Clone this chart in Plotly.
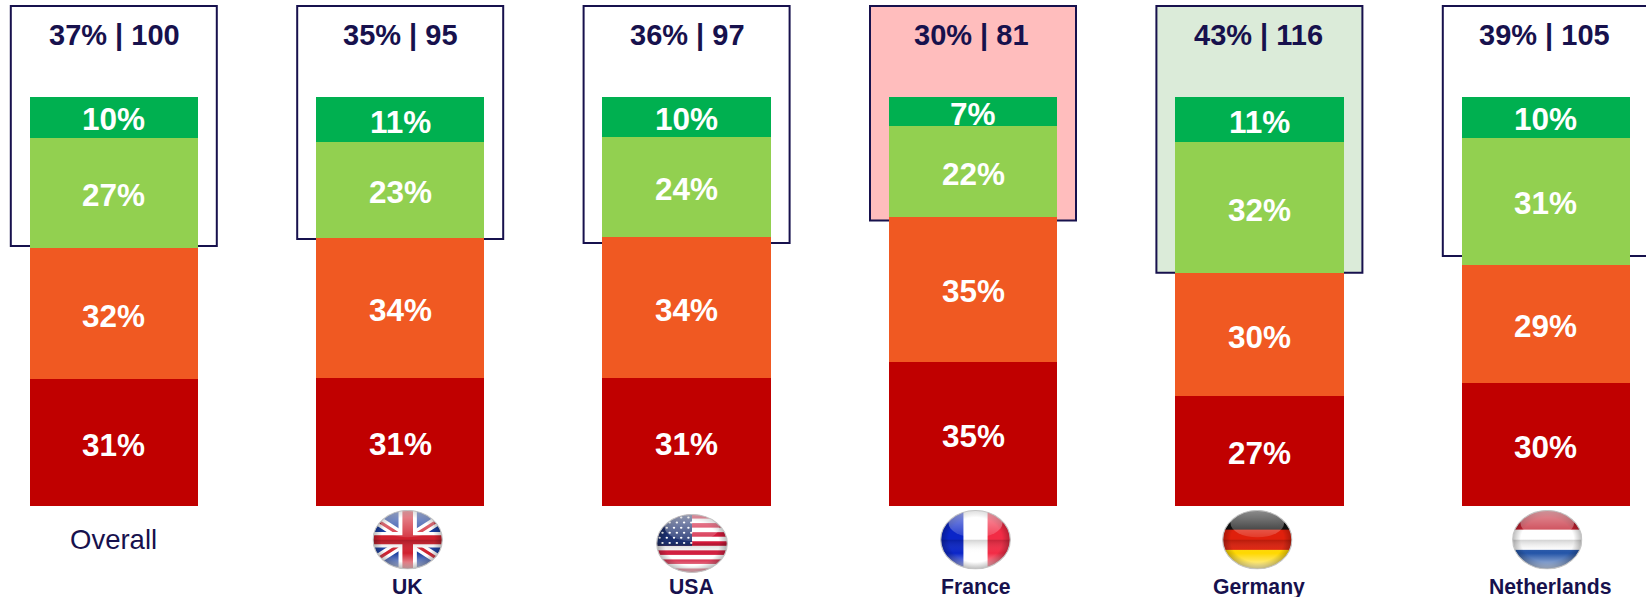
import base64
import plotly.graph_objects as go

categories = ["Overall", "UK", "USA", "France", "Germany", "Netherlands"]
very_positive = [10, 11, 10, 7.1, 11, 10]
positive = [27, 23.3, 24.4, 22.2, 32, 31]
negative = [32, 34.3, 34.4, 35.3, 30, 29]
very_negative = [31, 31.3, 31.3, 35.3, 26.9, 30]
top_share = [37, 35, 36, 30, 43, 39]
top_index = [100, 95, 97, 81, 116, 105]
box_floor = [63.6, 65.3, 64.3, 69.8, 57.0, 61.1]
box_fill = ["white", "white", "white", "#FFBDBD", "#DBEBD9", "white"]

W, H = 1646, 597
NAVY = "#17114D"
FONT = "Liberation Sans"
PX_PER_UNIT = 4.09
BASE_Y = 506
STEP = 286.4
FIRST = 113.8


def ell(content, extra=""):
    gloss = (
        '<defs>'
        '<clipPath id="c"><ellipse cx="50" cy="50" rx="49" ry="49"/></clipPath>'
        '<linearGradient id="t" x1="0" y1="0" x2="0" y2="1">'
        '<stop offset="0" stop-color="#fff" stop-opacity=".55"/>'
        '<stop offset="1" stop-color="#fff" stop-opacity=".12"/></linearGradient>'
        '<linearGradient id="b" x1="0" y1="0" x2="0" y2="1">'
        '<stop offset="0" stop-color="#000" stop-opacity=".18"/>'
        '<stop offset=".45" stop-color="#fff" stop-opacity="0"/>'
        '<stop offset="1" stop-color="#fff" stop-opacity=".75"/></linearGradient>'
        '<radialGradient id="e" cx=".5" cy=".5" r=".5">'
        '<stop offset=".75" stop-color="#000" stop-opacity="0"/>'
        '<stop offset="1" stop-color="#000" stop-opacity=".28"/></radialGradient>'
        '</defs>'
    )
    svg = (
        '<svg xmlns="http://www.w3.org/2000/svg" width="200" height="200" viewBox="0 0 100 100" preserveAspectRatio="none">'
        + gloss
        + '<g clip-path="url(#c)">' + content
        + '<rect x="0" y="50" width="100" height="50" fill="url(#b)"/>'
        + '<rect x="0" y="0" width="100" height="100" fill="url(#e)"/>'
        + '<ellipse cx="50" cy="22" rx="38" ry="24" fill="url(#t)"/>'
        + '</g><ellipse cx="50" cy="50" rx="49" ry="49" fill="none" stroke="#c4c4c4" stroke-width="1.6"/></svg>'
    )
    return "data:image/svg+xml;base64," + base64.b64encode(svg.encode()).decode()


def uk():
    return ell(
        '<rect width="100" height="100" fill="#1B3FA0"/>'
        '<path d="M0 12L100 88M100 12L0 88" stroke="#fff" stroke-width="15"/>'
        '<path d="M0 12L100 88M100 12L0 88" stroke="#D0202E" stroke-width="5"/>'
        '<path d="M50 0V100M0 50H100" stroke="#fff" stroke-width="26"/>'
        '<path d="M50 0V100M0 50H100" stroke="#D0202E" stroke-width="15"/>'
    )


def usa():
    s = '<rect width="100" height="100" fill="#fff"/>'
    for i in range(7):
        s += f'<rect x="0" y="{i * 15.4:.1f}" width="100" height="7.7" fill="#D3183A"/>'
    s += '<rect x="0" y="0" width="50" height="54" fill="#1C2F6E"/>'
    for r in range(6):
        for c in range(5):
            s += f'<circle cx="{5 + c * 10 + (r % 2) * 4}" cy="{6 + r * 8.6:.1f}" r="1.7" fill="#fff"/>'
    return ell(s)


def vertical(a, b, c):
    return ell(
        f'<rect x="0" width="34" height="100" fill="{a}"/>'
        f'<rect x="33" width="35" height="100" fill="{b}"/>'
        f'<rect x="67" width="33" height="100" fill="{c}"/>'
    )


def horizontal(a, b, c):
    return ell(
        f'<rect y="0" width="100" height="34" fill="{a}"/>'
        f'<rect y="33" width="100" height="35" fill="{b}"/>'
        f'<rect y="67" width="100" height="33" fill="{c}"/>'
    )


flags = [
    (uk(), 372.4, 443.0, 510, 569.5),
    (usa(), 656, 728, 514, 573),
    (vertical("#0A25C8", "#FFFFFF", "#F22B45"), 940, 1011, 510, 569.5),
    (horizontal("#111111", "#E0200C", "#FFD800"), 1222, 1292.6, 510, 569.5),
    (horizontal("#C22030", "#FFFFFF", "#2455A8"), 1512, 1582.5, 510, 569.5),
]

series = [
    ("Very negative", very_negative, "#C00000"),
    ("Negative", negative, "#F05922"),
    ("Positive", positive, "#92D050"),
    ("Very positive", very_positive, "#00B050"),
]

fig = go.Figure()
annotations = []
base = [0.0] * len(categories)
for name, vals, col in series:
    fig.add_trace(go.Bar(
        x=categories, y=vals, name=name, marker=dict(color=col, line=dict(width=0)),
        textposition="none",
    ))
    for i, v in enumerate(vals):
        annotations.append(dict(
            x=i, y=base[i] + v / 2, xref="x", yref="y", yshift=-2, showarrow=False,
            xanchor="center", yanchor="middle",
            text=f"<b>{round(v)}%</b>",
            font=dict(family=FONT, size=31.5, color="white"),
        ))
        base[i] += v

shapes = []
box_half = 103 / STEP
for i, (floor, fill) in enumerate(zip(box_floor, box_fill)):
    shapes.append(dict(
        type="rect", xref="x", yref="y", layer="below",
        x0=i - box_half, x1=i + box_half, y0=floor, y1=(BASE_Y - 6) / PX_PER_UNIT,
        fillcolor=fill, line=dict(color=NAVY, width=2),
    ))

top_x = [114, 400, 687.5, 971, 1258.6, 1544]
for x, s, n in zip(top_x, top_share, top_index):
    annotations.append(dict(
        x=x / W, y=1 - 35 / H, xref="paper", yref="paper", showarrow=False,
        xanchor="center", yanchor="middle",
        text=f"<b>{s}% | {n}</b>", font=dict(family=FONT, size=29, color=NAVY),
    ))
name_x = [113, 407.6, 691, 976.4, 1259, 1549.5]
for i, (x, name) in enumerate(zip(name_x, categories)):
    if i == 0:
        txt, size, y = name, 27.5, 539
    else:
        txt, size, y = f"<b>{name}</b>", 21.2, 586.5
    annotations.append(dict(
        x=x / W, y=1 - y / H, xref="paper", yref="paper", showarrow=False,
        xanchor="center", yanchor="middle",
        text=txt, font=dict(family=FONT, size=size, color=NAVY),
    ))

images = [
    dict(source=src, xref="paper", yref="paper", x=x0 / W, y=1 - y0 / H,
         sizex=(x1 - x0) / W, sizey=(y1 - y0) / H, sizing="stretch",
         xanchor="left", yanchor="top", layer="above")
    for src, x0, x1, y0, y1 in flags
]

fig.update_layout(
    width=W, height=H, autosize=False,
    margin=dict(l=0, r=0, t=0, b=0, pad=0),
    barmode="stack", bargap=1 - 168.5 / STEP, showlegend=False,
    paper_bgcolor="white", plot_bgcolor="white",
    xaxis=dict(type="category", categoryorder="array", categoryarray=categories,
               range=[-FIRST / STEP, (W - FIRST) / STEP], visible=False, fixedrange=True),
    yaxis=dict(range=[-(H - BASE_Y) / PX_PER_UNIT, BASE_Y / PX_PER_UNIT],
               visible=False, fixedrange=True),
    shapes=shapes, annotations=annotations, images=images,
)
fig.write_html(
    "out.html",
    config={"displayModeBar": False},
    post_script="document.body.style.margin='0';document.documentElement.style.overflow='hidden';",
)
